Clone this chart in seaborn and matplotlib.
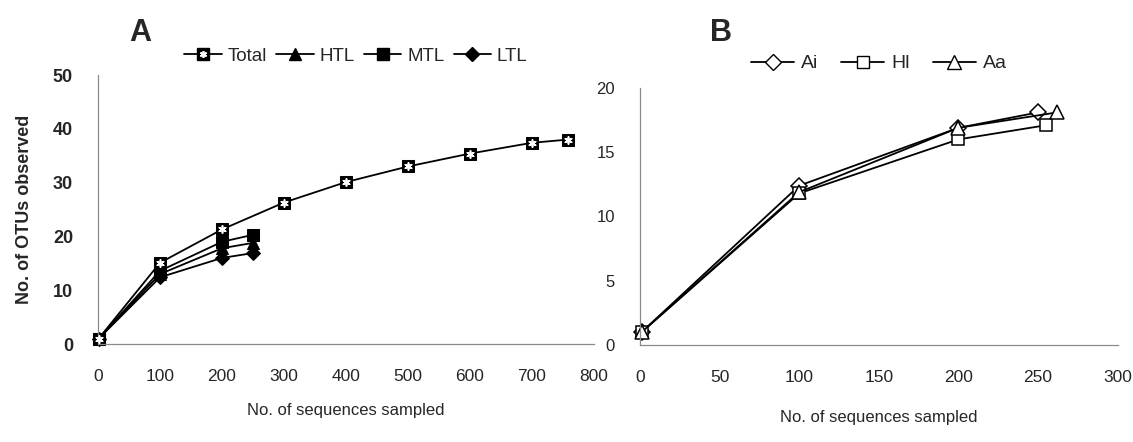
import matplotlib
matplotlib.use("Agg")
import matplotlib.pyplot as plt
from matplotlib.lines import Line2D
from matplotlib.legend_handler import HandlerTuple
import seaborn as sns
import pandas as pd

# ---- data (panel A) ----
total_x = [1, 100, 200, 300, 400, 500, 600, 700, 758]
total_y = [1, 15.1, 21.3, 26.3, 30.1, 33.0, 35.4, 37.4, 38.0]
htl_x = [1, 100, 200, 250]
htl_y = [1, 13.0, 17.8, 18.8]
mtl_x = [1, 100, 200, 250]
mtl_y = [1, 13.6, 19.0, 20.3]
ltl_x = [1, 100, 200, 250]
ltl_y = [1, 12.4, 16.0, 16.9]
series_a = ["Total", "HTL", "MTL", "LTL"]

# ---- data (panel B) ----
ai_x = [1, 100, 200, 250]
ai_y = [1, 12.4, 16.9, 18.1]
hl_x = [1, 100, 200, 255]
hl_y = [1, 11.8, 16.0, 17.1]
aa_x = [1, 100, 200, 262]
aa_y = [1, 11.9, 16.9, 18.1]
series_b = ["Ai", "Hl", "Aa"]

xticks_a = [0, 100, 200, 300, 400, 500, 600, 700, 800]
yticks_a = [0, 10, 20, 30, 40, 50]
xticks_b = [0, 50, 100, 150, 200, 250, 300]
yticks_b = [0, 5, 10, 15, 20]

sns.set_style("white")
plt.rcParams['font.family'] = ['Liberation Sans', 'DejaVu Sans']

df_a = pd.concat([
    pd.DataFrame({"x": total_x, "y": total_y, "s": "Total"}),
    pd.DataFrame({"x": htl_x, "y": htl_y, "s": "HTL"}),
    pd.DataFrame({"x": mtl_x, "y": mtl_y, "s": "MTL"}),
    pd.DataFrame({"x": ltl_x, "y": ltl_y, "s": "LTL"}),
])
df_b = pd.concat([
    pd.DataFrame({"x": ai_x, "y": ai_y, "s": "Ai"}),
    pd.DataFrame({"x": hl_x, "y": hl_y, "s": "Hl"}),
    pd.DataFrame({"x": aa_x, "y": aa_y, "s": "Aa"}),
])

fig = plt.figure(figsize=(11.33, 4.42), dpi=100)
ax1 = fig.add_axes([0.0865, 0.2217, 0.4378, 0.6086])
ax2 = fig.add_axes([0.5649, 0.2195, 0.4215, 0.5814])

STAR = (6, 2, 0)
mk_a = {"Total": "s", "HTL": "^", "MTL": "s", "LTL": "D"}
ms_a = {"Total": 9, "HTL": 8, "MTL": 8, "LTL": 7}
for name in series_a[::-1]:
    sub = df_a[df_a.s == name]
    sns.lineplot(data=sub, x="x", y="y", ax=ax1, color="black", lw=1.3,
                 marker=mk_a[name], markersize=ms_a[name],
                 markerfacecolor="black", markeredgecolor="black", legend=False)
sub = df_a[df_a.s == "Total"]
sns.scatterplot(data=sub, x="x", y="y", ax=ax1, marker=STAR, s=26,
                color="white", edgecolor="white", linewidth=1.2, legend=False, zorder=5)

mk_b = {"Ai": "D", "Hl": "s", "Aa": "^"}
ms_b = {"Ai": 8, "Hl": 9, "Aa": 10}
for name in series_b:
    sub = df_b[df_b.s == name]
    sns.lineplot(data=sub, x="x", y="y", ax=ax2, color="black", lw=1.3,
                 marker=mk_b[name], markersize=ms_b[name],
                 markerfacecolor="white", markeredgecolor="black",
                 markeredgewidth=1.1, legend=False)

for ax, xt, yt in [(ax1, xticks_a, yticks_a), (ax2, xticks_b, yticks_b)]:
    ax.set_xlim(xt[0], xt[-1])
    ax.set_ylim(yt[0], yt[-1])
    ax.set_xticks(xt)
    ax.set_yticks(yt)
    for sp in ["top", "right"]:
        ax.spines[sp].set_visible(False)
    for sp in ["left", "bottom"]:
        ax.spines[sp].set_color("#8a8a8a")
        ax.spines[sp].set_linewidth(0.9)
    ax.tick_params(axis="both", direction="in", length=5, color="#8a8a8a", width=0.9)
    ax.tick_params(axis="x", pad=18, labelsize=12.5)
    for l in ax.get_lines():
        l.set_clip_on(False)
    for c in ax.collections:
        c.set_clip_on(False)

ax1.tick_params(axis="y", pad=18, labelsize=13)
for t in ax1.get_yticklabels():
    t.set_fontweight("bold")
ax2.tick_params(axis="y", pad=18, labelsize=12)

ax1.set_xlabel("No. of sequences sampled", fontsize=12, labelpad=14)
ax2.set_xlabel("No. of sequences sampled", fontsize=12, labelpad=18)
ax1.set_ylabel("No. of OTUs observed", fontsize=13, fontweight="bold", labelpad=14)
ax2.set_ylabel("")

fig.text(0.124, 0.925, "A", fontsize=22, fontweight="bold", ha="center", va="center")
fig.text(0.636, 0.925, "B", fontsize=22, fontweight="bold", ha="center", va="center")

# legends
tot_sq = Line2D([], [], color="black", lw=1.3, marker="s", markersize=9,
                markerfacecolor="black", markeredgecolor="black")
tot_st = Line2D([], [], color="none", lw=0, marker=STAR, markersize=5,
                markeredgecolor="white", markeredgewidth=1.2)
h_a = [(tot_sq, tot_st)]
for name in series_a[1:]:
    h_a.append(Line2D([], [], color="black", lw=1.3, marker=mk_a[name],
                      markersize=ms_a[name], markerfacecolor="black",
                      markeredgecolor="black"))
ax1.legend(h_a, series_a, loc="center", bbox_to_anchor=(0.52, 1.07),
           bbox_transform=ax1.transAxes, ncol=4, frameon=False, fontsize=13.5,
           handlelength=2.0, handletextpad=0.3, columnspacing=0.5,
           handler_map={tuple: HandlerTuple(ndivide=1, pad=0)})
h_b = [Line2D([], [], color="black", lw=1.3, marker=mk_b[n], markersize=ms_b[n],
              markerfacecolor="white", markeredgecolor="black") for n in series_b]
ax2.legend(h_b, series_b, loc="center", bbox_to_anchor=(0.5, 1.095),
           bbox_transform=ax2.transAxes, ncol=3, frameon=False, fontsize=14,
           handlelength=2.2, handletextpad=0.35, columnspacing=1.2)

fig.savefig("out.png", dpi=100)
